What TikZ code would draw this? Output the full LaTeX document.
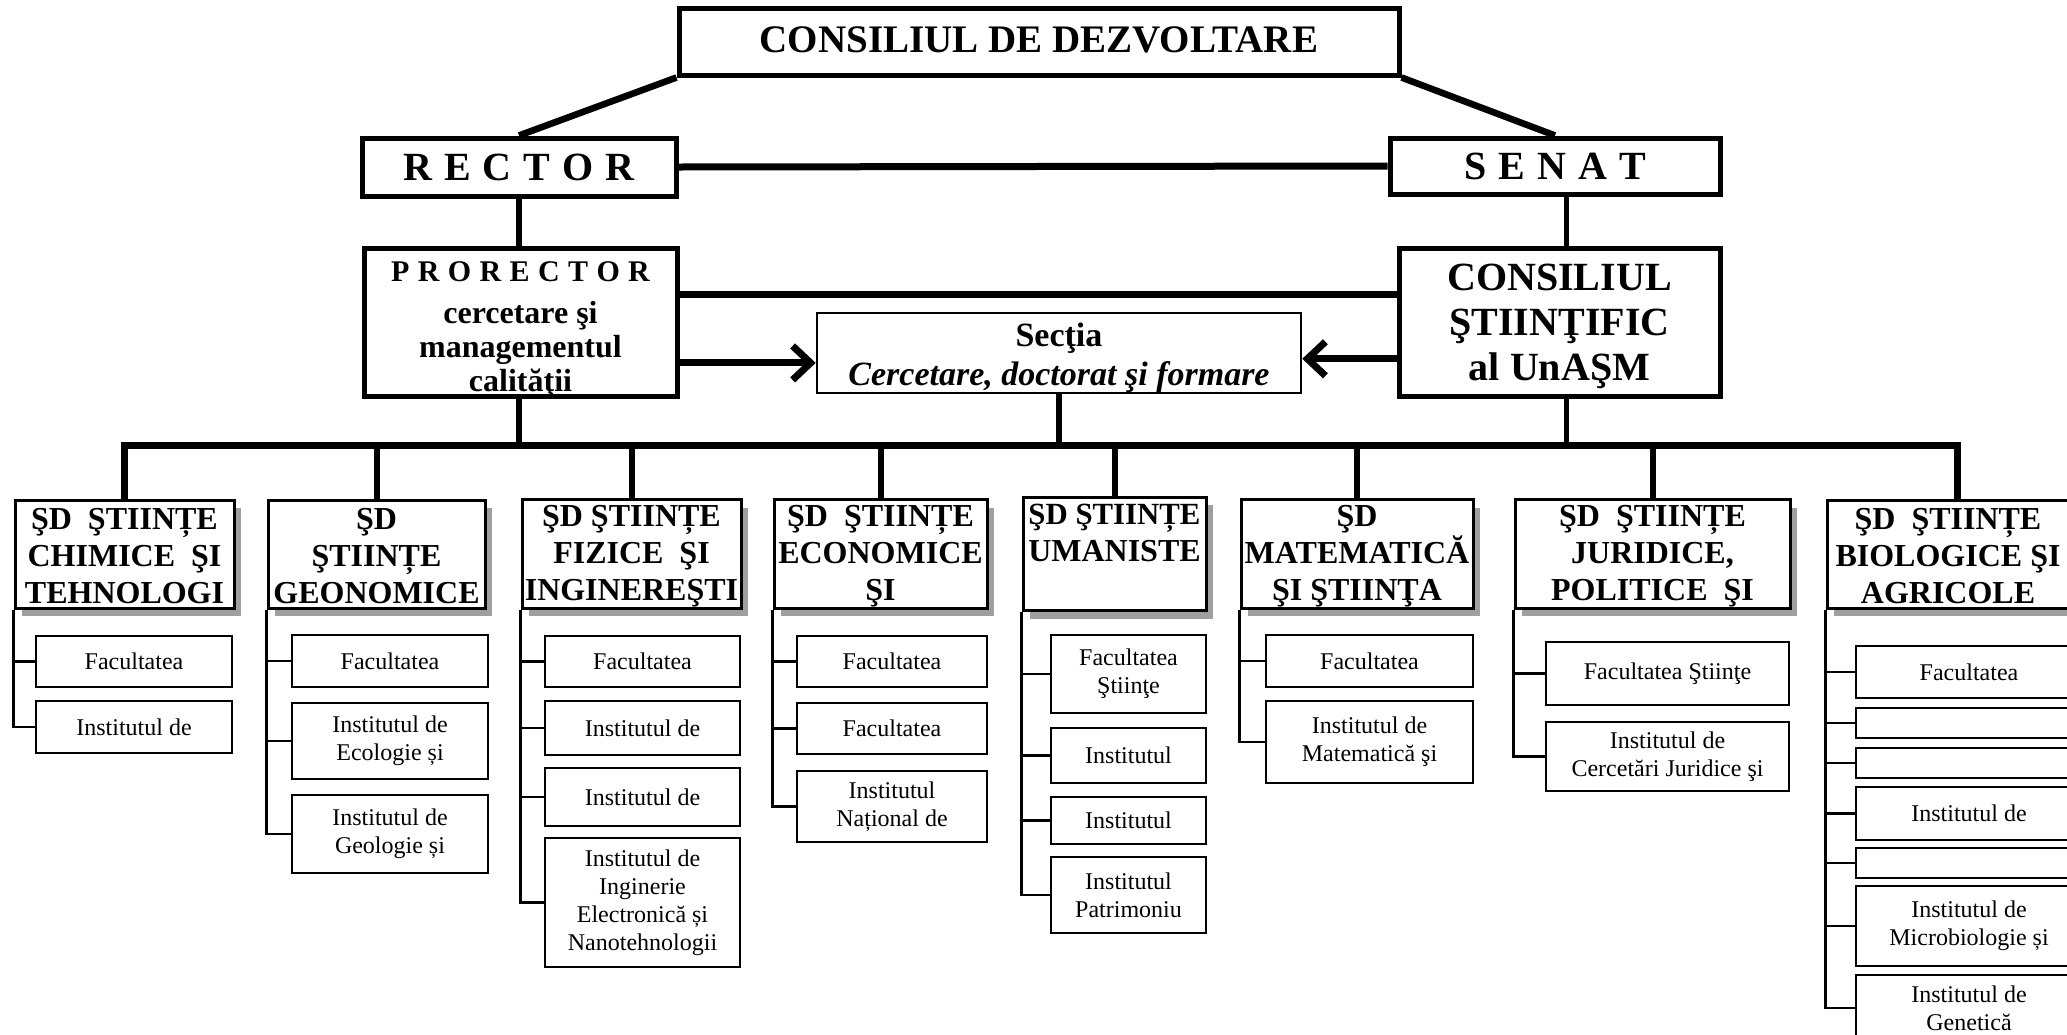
\documentclass[tikz,border=0pt]{standalone}
\usepackage{fontspec}
\setmainfont{Liberation Serif}
\usetikzlibrary{arrows.meta,shadows,calc}
\begin{document}
\begin{tikzpicture}[x=0.5pt,y=-0.5pt,
  topbox/.style={draw, line width=2.5pt, inner sep=2pt, align=center, font=\bfseries},
  secbox/.style={draw, line width=1.3pt, inner sep=2pt, align=center},
  boxtext/.style={inner sep=0pt, align=center},
  sdbox/.style={draw, fill=white, line width=1.5pt, inner sep=0.5pt, align=center,
    minimum height=54pt, font=\bfseries\fontsize{16}{18.5}\selectfont,
    drop shadow={shadow xshift=3.5pt, shadow yshift=-4pt, fill=black!75}},
  unitbox/.style={draw, line width=1pt, inner sep=1pt, align=center,
    font=\fontsize{12}{14}\selectfont},
  heavy/.style={line width=3.5pt},
  diag/.style={line width=3.3pt},
  vline/.style={line width=2.6pt},
  dropline/.style={line width=3pt, line join=miter},
  arrowline/.style={line width=3.5pt, -{Straight Barb[length=9pt,width=17pt]}},
  link/.style={line width=1.2pt}
]
\path[fill=white, use as bounding box] (0,0) rectangle (2067,1034);

% ---------- top level ----------
\node[topbox, minimum width=360pt, minimum height=33.5pt, font=\bfseries\fontsize{19.5}{22}\selectfont]
  (cdz) at (1039,41.5) {\raisebox{2pt}{CONSILIUL DE DEZVOLTARE}};
\node[topbox, minimum width=157pt, minimum height=29pt, font=\bfseries\fontsize{20}{22}\selectfont]
  (rector) at (519,167) {R\hspace{6pt}E\hspace{6pt}C\hspace{6pt}T\hspace{6pt}O\hspace{6pt}R};
\node[topbox, minimum width=165pt, minimum height=28pt, font=\bfseries\fontsize{20}{22}\selectfont]
  (senat) at (1555,166) {S\hspace{6pt}E\hspace{6pt}N\hspace{6pt}A\hspace{6pt}T};

\node[topbox, minimum width=156.5pt, minimum height=74pt] (prorector) at (520.5,322) {};
\node[boxtext, font=\bfseries\fontsize{16}{17}\selectfont] (prorectorT) at ($(prorector.center)+(0,8)$)
  {{\fontsize{15}{17}\selectfont P\hspace{4.2pt}R\hspace{4.2pt}O\hspace{4.2pt}R\hspace{4.2pt}E\hspace{4.2pt}C\hspace{4.2pt}T\hspace{4.2pt}O\hspace{4.2pt}R}\\[4pt]
   cercetare şi\\ managementul\\ calităţii};

\node[topbox, minimum width=160.5pt, minimum height=74pt] (cs) at (1559.5,322) {};
\node[boxtext, font=\bfseries\fontsize{20}{22.5}\selectfont] (csT) at ($(cs.center)+(0,4)$)
  {CONSILIUL\\ ŞTIINŢIFIC\\ al UnAŞM};

\node[secbox, minimum width=242pt, minimum height=40pt] (sectia) at (1059,353) {};
\node[boxtext, font=\bfseries\fontsize{17}{19.5}\selectfont] (sectiaT) at ($(sectia.center)+(0,5)$)
  {Secţia\\ \textit{Cercetare, doctorat şi formare}};

\draw[diag] (cdz.south west) -- (rector.north);
\draw[diag] (cdz.south east) -- (senat.north);
\draw[heavy] (rector.east) -- (senat.west);
\draw[vline] (rector.south) -- (prorector.north -| rector.south);
\draw[vline] ($(cs.north)+(7,0)$) -- ($(cs.north |- senat.south)+(7,0)$);
\coordinate (pcY) at ($(prorector.north east)!0.32!(prorector.south east)$);
\draw[heavy] (pcY) -- (pcY -| cs.west);
\coordinate (aL) at ($(sectia.north west)!0.62!(sectia.south west)$);
\draw[arrowline] (aL -| prorector.east) -- (aL);
\coordinate (aR) at ($(sectia.north east)!0.57!(sectia.south east)$);
\draw[arrowline] (aR -| cs.west) -- (aR);

% ---------- departments ----------
\node[sdbox, minimum width=109.5pt] (sd1) at (124.5,554) {\rule{0pt}{13pt}ŞD\ \ ŞTIINȚE\\ CHIMICE\ \ ŞI\\ TEHNOLOGI};
\node[sdbox, minimum width=108.5pt] (sd2) at (376.5,554) {\rule{0pt}{13pt}ŞD\\ ŞTIINȚE\\ GEONOMICE};
\node[sdbox, minimum width=109.5pt] (sd3) at (631.5,554) {\rule{0pt}{13pt}ŞD ŞTIINȚE\\ FIZICE\ \ ŞI\\ INGINEREŞTI};
\node[sdbox, minimum width=106.5pt] (sd4) at (880.5,554) {\rule{0pt}{13pt}ŞD\ \ ŞTIINȚE\\ ECONOMICE\\ ŞI};
\node[sdbox, minimum width=91.5pt]  (sd5) at (1114.5,554) {\rule{0pt}{13pt}{\fontsize{15.4}{18.5}\selectfont ŞD ŞTIINȚE}\\ UMANISTE\\ \strut};
\node[sdbox, minimum width=116pt]   (sd6) at (1357,554) {\rule{0pt}{13pt}ŞD\\ MATEMATICĂ\\ ŞI ŞTIINŢA};
\node[sdbox, minimum width=137.5pt] (sd7) at (1652.5,554) {\rule{0pt}{13pt}ŞD\ \ ŞTIINȚE\\ JURIDICE,\\ POLITICE\ \ ŞI};
\node[sdbox, minimum width=121pt]   (sd8) at (1948,554) {\rule{0pt}{13pt}ŞD\ \ ŞTIINȚE\\ BIOLOGICE ŞI\\ AGRICOLE};

\coordinate (busY) at (0,445);
\draw[heavy, line join=miter] (sd1.north) -- (sd1.north |- busY) -- ($(sd8.north |- busY)+(9,0)$) -- ($(sd8.north)+(9,0)$);
\foreach \i in {2,...,7} { \draw[dropline] (sd\i.north |- busY) -- (sd\i.north); }
\draw[vline] (prorector.south -| rector.south) -- (rector.south |- busY);
\draw[vline] (sectia.south) -- (sectia.south |- busY);
\draw[vline] ($(cs.south)+(7,0)$) -- ($(cs.south |- busY)+(7,0)$);

% ---------- units ----------
% group 1
\node[unitbox, minimum width=98pt, minimum height=25.5pt] (c1a) at (134,661.5) {Facultatea};
\node[unitbox, minimum width=98pt, minimum height=26pt] (c1b) at (134,727) {Institutul de};
% group 2
\node[unitbox, minimum width=98pt, minimum height=26pt] (c2a) at (390,661) {Facultatea};
\node[unitbox, minimum width=98pt, minimum height=38pt] (c2b) at (390,741) {Institutul de\\ Ecologie și};
\node[unitbox, minimum width=98pt, minimum height=39pt] (c2c) at (390,834) {Institutul de\\ Geologie și};
% group 3
\node[unitbox, minimum width=97.5pt, minimum height=25.5pt] (c3a) at (642.5,661.5) {Facultatea};
\node[unitbox, minimum width=97.5pt, minimum height=27pt] (c3b) at (642.5,728) {Institutul de};
\node[unitbox, minimum width=97.5pt, minimum height=29pt] (c3c) at (642.5,797) {Institutul de};
\node[unitbox, minimum width=97.5pt, minimum height=64.5pt] (c3d) at (642.5,902.5) {Institutul de\\ Inginerie\\ Electronică și\\ Nanotehnologii};
% group 4
\node[unitbox, minimum width=95pt, minimum height=25.5pt] (c4a) at (892,661.5) {Facultatea};
\node[unitbox, minimum width=95pt, minimum height=25.5pt] (c4b) at (892,728.5) {Facultatea};
\node[unitbox, minimum width=95pt, minimum height=35.5pt] (c4c) at (892,806.5) {Institutul\\ Național de};
% group 5
\node[unitbox, minimum width=77.5pt, minimum height=39pt] (c5a) at (1128.5,674) {Facultatea\\ Ştiinţe};
\node[unitbox, minimum width=77.5pt, minimum height=27.5pt] (c5b) at (1128.5,755.5) {Institutul};
\node[unitbox, minimum width=77.5pt, minimum height=23.5pt] (c5c) at (1128.5,820.5) {Institutul};
\node[unitbox, minimum width=77.5pt, minimum height=38pt] (c5d) at (1128.5,895) {Institutul\\ Patrimoniu};
% group 6
\node[unitbox, minimum width=103.5pt, minimum height=26pt] (c6a) at (1369.5,661) {Facultatea};
\node[unitbox, minimum width=103.5pt, minimum height=41pt] (c6b) at (1369.5,742) {Institutul de\\ Matematică şi};
% group 7
\node[unitbox, minimum width=121.5pt, minimum height=31.5pt] (c7a) at (1667.5,673.5) {Facultatea Ştiinţe};
\node[unitbox, minimum width=121.5pt, minimum height=34.5pt] (c7b) at (1667.5,756.5) {Institutul de\\ Cercetări Juridice şi};
% group 8
\node[unitbox, minimum width=113pt, minimum height=26pt] (c8a) at (1969,672) {Facultatea};
\node[unitbox, minimum width=113pt, minimum height=15pt] (c8b) at (1969,723) {};
\node[unitbox, minimum width=113pt, minimum height=15pt] (c8c) at (1969,763) {};
\node[unitbox, minimum width=113pt, minimum height=26.5pt] (c8d) at (1969,813.5) {Institutul de};
\node[unitbox, minimum width=113pt, minimum height=15pt] (c8e) at (1969,863) {};
\node[unitbox, minimum width=113pt, minimum height=40pt] (c8f) at (1969,926) {Institutul de\\ Microbiologie și};
\node[unitbox, minimum width=113pt, minimum height=33pt] (c8g) at (1969,1008) {Institutul de\\ Genetică};

\foreach \g/\list in {1/{a,b}, 2/{a,b,c}, 3/{a,b,c,d}, 4/{a,b,c}, 5/{a,b,c,d}, 6/{a,b}, 7/{a,b}, 8/{a,b,c,d,e,f,g}} {
  \foreach \k in \list {
    \draw[link] (sd\g.south west) |- (c\g\k.west);
  }
}
\end{tikzpicture}
\end{document}
